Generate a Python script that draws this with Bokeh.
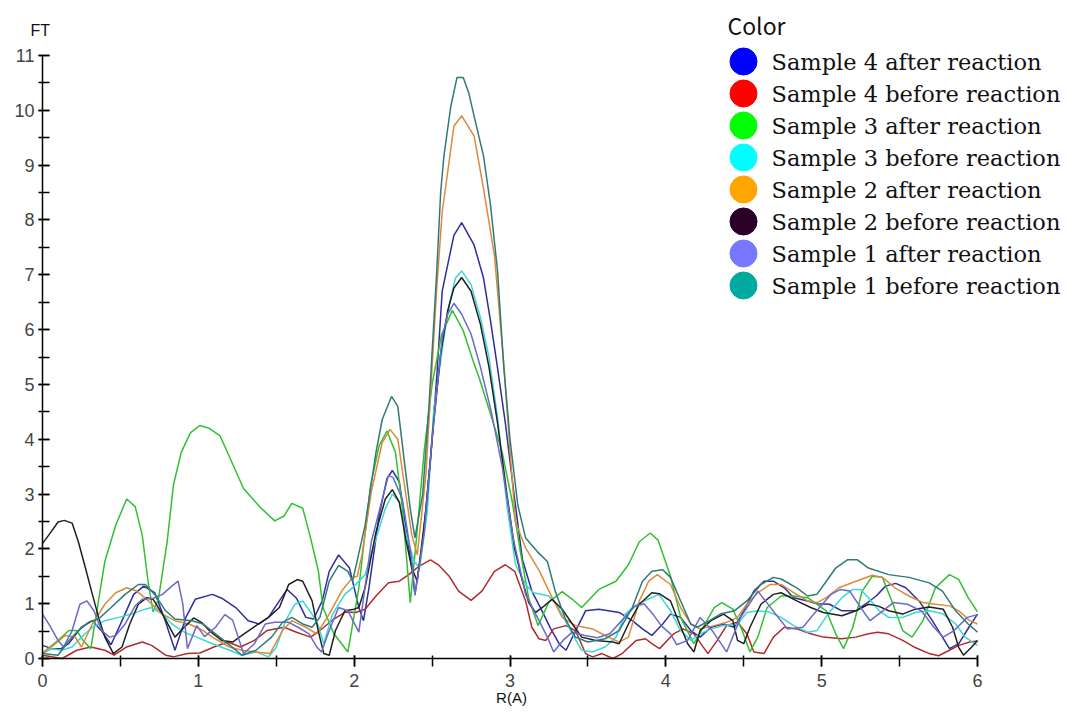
from bokeh.plotting import figure
from bokeh.models import FixedTicker, Range1d
from bokeh.core.properties import value
from bokeh.embed import file_html
from bokeh.resources import INLINE

# ---------------- data ----------------
s4_after_x = [0, 0.06, 0.12, 0.167, 0.25, 0.32, 0.38, 0.44, 0.52, 0.585, 0.65, 0.72, 0.78, 0.85, 0.92, 0.98, 1.09, 1.15, 1.24, 1.32, 1.39, 1.45, 1.52, 1.57, 1.63, 1.69, 1.74, 1.795, 1.84, 1.90, 1.97, 2.03, 2.06, 2.095, 2.16, 2.21, 2.245, 2.29, 2.33, 2.37, 2.39, 2.44, 2.49, 2.53, 2.565, 2.60, 2.64, 2.69, 2.77, 2.83, 2.875, 2.92, 2.97, 3.03, 3.08, 3.14, 3.20, 3.26, 3.32, 3.36, 3.42, 3.485, 3.57, 3.70, 3.785, 3.85, 3.91, 3.98, 4.03, 4.095, 4.16, 4.22, 4.29, 4.37, 4.44, 4.50, 4.565, 4.63, 4.69, 4.76, 4.82, 4.91, 4.97, 5.05, 5.13, 5.22, 5.28, 5.35, 5.41, 5.475, 5.54, 5.625, 5.71, 5.775, 5.82, 5.88, 5.945, 6.0]
s4_after_y = [0.24, 0.18, 0.18, 0.27, 0.57, 0.69, 0.5, 0.25, 0.75, 1.17, 1.32, 1.2, 0.75, 0.15, 0.75, 1.08, 1.17, 1.1, 0.93, 0.69, 0.63, 0.75, 1.05, 1.26, 1.1, 0.75, 0.72, 1.05, 1.59, 1.89, 1.65, 0.93, 0.69, 1.29, 2.61, 3.28, 3.43, 3.22, 2.43, 1.65, 1.17, 2.13, 3.64, 5.14, 6.70, 7.18, 7.72, 7.95, 7.54, 6.94, 6.16, 5.3, 4.3, 2.9, 1.8, 1.23, 0.9, 0.55, 0.25, 0.15, 0.5, 0.87, 0.9, 0.84, 0.69, 0.54, 0.42, 0.63, 0.81, 0.75, 0.51, 0.39, 0.57, 0.63, 0.57, 0.87, 1.23, 1.41, 1.41, 1.29, 1.11, 1.05, 1.0, 0.99, 0.87, 0.87, 0.99, 1.14, 1.32, 1.37, 1.29, 1.05, 0.69, 0.39, 0.18, 0.27, 0.57, 0.81]

s4_before_x = [0, 0.126, 0.22, 0.31, 0.40, 0.46, 0.54, 0.64, 0.70, 0.79, 0.84, 0.93, 1.01, 1.10, 1.19, 1.27, 1.36, 1.44, 1.55, 1.63, 1.72, 1.78, 1.87, 1.945, 2.01, 2.07, 2.14, 2.22, 2.29, 2.35, 2.415, 2.49, 2.54, 2.61, 2.67, 2.75, 2.82, 2.90, 2.97, 3.03, 3.10, 3.14, 3.186, 3.23, 3.28, 3.36, 3.42, 3.485, 3.53, 3.59, 3.66, 3.72, 3.81, 3.87, 3.91, 3.96, 4.05, 4.11, 4.18, 4.27, 4.33, 4.39, 4.46, 4.52, 4.565, 4.63, 4.69, 4.76, 4.84, 4.93, 5.01, 5.13, 5.22, 5.30, 5.36, 5.43, 5.52, 5.60, 5.69, 5.75, 5.82, 5.88, 5.95, 6.0]
s4_before_y = [0.06, 0.0, 0.15, 0.21, 0.15, 0.06, 0.21, 0.3, 0.24, 0.06, 0.03, 0.09, 0.1, 0.21, 0.3, 0.21, 0.33, 0.51, 0.57, 0.48, 0.39, 0.51, 0.72, 0.85, 0.84, 0.9, 1.14, 1.38, 1.41, 1.53, 1.68, 1.8, 1.71, 1.5, 1.23, 1.06, 1.23, 1.59, 1.71, 1.59, 1.05, 0.57, 0.36, 0.33, 0.54, 0.6, 0.51, 0.09, 0.03, 0.09, 0.0, 0.09, 0.33, 0.36, 0.27, 0.18, 0.45, 0.54, 0.45, 0.09, 0.33, 0.6, 0.66, 0.45, 0.12, 0.09, 0.39, 0.57, 0.54, 0.45, 0.39, 0.36, 0.39, 0.45, 0.48, 0.45, 0.33, 0.2, 0.09, 0.05, 0.15, 0.24, 0.3, 0.32]

s3_after_x = [0, 0.1, 0.17, 0.22, 0.26, 0.31, 0.40, 0.47, 0.54, 0.595, 0.64, 0.68, 0.71, 0.745, 0.80, 0.84, 0.89, 0.95, 1.01, 1.07, 1.14, 1.29, 1.40, 1.49, 1.55, 1.60, 1.67, 1.72, 1.77, 1.80, 1.87, 1.96, 2.03, 2.105, 2.16, 2.21, 2.265, 2.31, 2.36, 2.40, 2.45, 2.50, 2.56, 2.63, 2.70, 2.77, 2.80, 2.886, 2.95, 3.015, 3.07, 3.12, 3.18, 3.25, 3.335, 3.40, 3.46, 3.57, 3.68, 3.76, 3.83, 3.90, 3.95, 4.03, 4.095, 4.18, 4.24, 4.31, 4.36, 4.43, 4.49, 4.54, 4.59, 4.65, 4.74, 4.82, 4.91, 5.03, 5.09, 5.14, 5.20, 5.26, 5.325, 5.39, 5.45, 5.52, 5.58, 5.65, 5.73, 5.82, 5.88, 5.94, 6.0]
s3_after_y = [0.1, 0.33, 0.51, 0.51, 0.33, 0.18, 1.77, 2.43, 2.91, 2.77, 2.25, 1.35, 0.85, 1.1, 2.13, 3.16, 3.76, 4.12, 4.25, 4.2, 4.06, 3.1, 2.75, 2.51, 2.6, 2.83, 2.74, 2.2, 1.6, 0.93, 0.45, 0.12, 1.29, 3.15, 3.88, 4.15, 3.76, 2.73, 1.02, 2.2, 3.8, 5.0, 5.9, 6.35, 5.98, 5.37, 5.14, 4.36, 3.76, 2.85, 1.89, 1.1, 0.6, 1.03, 1.22, 1.08, 0.93, 1.26, 1.41, 1.71, 2.13, 2.29, 2.16, 1.5, 0.75, 0.27, 0.57, 0.93, 1.02, 0.9, 0.51, 0.12, 0.39, 0.93, 1.14, 1.14, 1.11, 0.87, 0.45, 0.18, 0.57, 1.23, 1.5, 1.48, 1.05, 0.51, 0.39, 0.69, 1.29, 1.53, 1.44, 1.11, 0.85]

s3_before_x = [0, 0.06, 0.12, 0.19, 0.25, 0.32, 0.40, 0.49, 0.57, 0.66, 0.70, 0.77, 0.83, 0.91, 0.99, 1.09, 1.20, 1.28, 1.37, 1.45, 1.50, 1.56, 1.62, 1.67, 1.73, 1.77, 1.805, 1.86, 1.94, 2.0, 2.07, 2.14, 2.20, 2.245, 2.29, 2.33, 2.385, 2.42, 2.47, 2.51, 2.576, 2.61, 2.65, 2.69, 2.75, 2.81, 2.865, 2.92, 2.98, 3.035, 3.10, 3.15, 3.25, 3.31, 3.40, 3.46, 3.53, 3.61, 3.68, 3.74, 3.80, 3.86, 3.955, 4.03, 4.095, 4.16, 4.22, 4.29, 4.37, 4.46, 4.52, 4.59, 4.66, 4.74, 4.82, 4.91, 4.97, 5.04, 5.13, 5.20, 5.25, 5.30, 5.37, 5.43, 5.52, 5.60, 5.69, 5.78, 5.86, 5.92, 6.0]
s3_before_y = [0.09, 0.18, 0.15, 0.21, 0.39, 0.57, 0.69, 0.75, 0.81, 0.9, 0.93, 0.81, 0.63, 0.48, 0.39, 0.27, 0.15, 0.06, 0.12, 0.03, 0.2, 0.69, 0.99, 1.05, 0.81, 0.6, 0.27, 0.8, 1.17, 1.32, 1.53, 2.19, 2.73, 3.0, 2.85, 2.31, 1.77, 1.65, 2.7, 4.5, 5.86, 6.46, 6.94, 7.07, 6.82, 6.22, 5.5, 4.4, 2.8, 1.71, 1.35, 1.2, 1.14, 0.93, 0.45, 0.15, 0.12, 0.21, 0.39, 0.81, 0.96, 1.05, 1.17, 0.87, 0.51, 0.33, 0.45, 0.54, 0.6, 0.63, 0.84, 0.87, 0.85, 0.75, 0.6, 0.48, 0.51, 0.81, 1.11, 1.26, 1.26, 1.11, 0.87, 0.75, 0.75, 0.84, 0.87, 0.81, 0.63, 0.39, 0.24]

s2_after_x = [0, 0.07, 0.146, 0.21, 0.25, 0.32, 0.40, 0.47, 0.54, 0.605, 0.68, 0.77, 0.85, 0.94, 1.03, 1.09, 1.20, 1.28, 1.37, 1.46, 1.54, 1.60, 1.69, 1.76, 1.84, 1.92, 1.99, 2.02, 2.05, 2.11, 2.18, 2.23, 2.28, 2.32, 2.37, 2.405, 2.46, 2.50, 2.53, 2.565, 2.60, 2.64, 2.69, 2.77, 2.83, 2.90, 2.96, 3.0, 3.035, 3.10, 3.19, 3.25, 3.335, 3.42, 3.53, 3.61, 3.70, 3.76, 3.83, 3.89, 3.945, 4.03, 4.095, 4.16, 4.22, 4.31, 4.39, 4.46, 4.52, 4.59, 4.67, 4.74, 4.82, 4.91, 4.97, 5.03, 5.11, 5.22, 5.325, 5.39, 5.47, 5.56, 5.65, 5.73, 5.82, 5.88, 5.95, 6.0]
s2_after_y = [0.1, 0.24, 0.42, 0.39, 0.21, 0.63, 0.99, 1.2, 1.29, 1.23, 1.05, 0.81, 0.69, 0.63, 0.51, 0.39, 0.21, 0.15, 0.12, 0.09, 0.51, 0.69, 0.57, 0.45, 0.81, 1.23, 1.48, 1.5, 1.89, 3.04, 3.94, 4.18, 4.0, 3.22, 2.25, 1.89, 3.34, 5.32, 6.76, 8.15, 8.87, 9.71, 9.9, 9.53, 8.57, 7.36, 5.38, 3.8, 2.49, 2.02, 1.59, 1.23, 0.75, 0.6, 0.54, 0.42, 0.3, 0.39, 1.05, 1.41, 1.53, 1.35, 0.93, 0.63, 0.54, 0.6, 0.66, 0.75, 0.99, 1.2, 1.35, 1.35, 1.2, 1.05, 1.02, 1.11, 1.29, 1.41, 1.52, 1.48, 1.29, 1.14, 1.02, 0.99, 0.96, 0.87, 0.69, 0.63]

s2_before_x = [0, 0.04, 0.10, 0.14, 0.19, 0.23, 0.27, 0.32, 0.36, 0.40, 0.455, 0.51, 0.56, 0.615, 0.67, 0.71, 0.77, 0.85, 0.92, 0.97, 1.02, 1.07, 1.15, 1.22, 1.28, 1.37, 1.45, 1.52, 1.58, 1.635, 1.67, 1.73, 1.77, 1.805, 1.84, 1.88, 1.94, 2.0, 2.03, 2.07, 2.14, 2.20, 2.245, 2.29, 2.33, 2.37, 2.405, 2.46, 2.51, 2.555, 2.60, 2.64, 2.69, 2.75, 2.81, 2.865, 2.92, 2.98, 3.03, 3.08, 3.12, 3.165, 3.22, 3.27, 3.335, 3.40, 3.46, 3.55, 3.66, 3.70, 3.76, 3.83, 3.91, 3.96, 4.03, 4.08, 4.14, 4.18, 4.22, 4.29, 4.37, 4.43, 4.46, 4.50, 4.54, 4.61, 4.69, 4.74, 4.84, 4.93, 5.01, 5.13, 5.22, 5.30, 5.36, 5.43, 5.52, 5.60, 5.69, 5.78, 5.84, 5.88, 5.91, 5.96, 6.0]
s2_before_y = [2.1, 2.25, 2.49, 2.52, 2.47, 2.13, 1.71, 1.17, 0.75, 0.39, 0.09, 0.21, 0.63, 0.99, 1.11, 1.08, 0.81, 0.39, 0.6, 0.74, 0.66, 0.51, 0.33, 0.3, 0.42, 0.6, 0.75, 0.93, 1.35, 1.44, 1.41, 1.05, 0.5, 0.09, 0.06, 0.51, 0.87, 0.9, 0.93, 1.29, 2.31, 2.91, 3.08, 2.85, 2.19, 1.65, 1.41, 2.7, 4.3, 5.56, 6.34, 6.76, 6.95, 6.7, 6.1, 5.32, 4.3, 3.0, 2.0, 1.41, 1.02, 0.84, 0.96, 1.08, 0.9, 0.63, 0.39, 0.33, 0.3, 0.27, 0.63, 0.99, 1.2, 1.18, 1.05, 0.69, 0.27, 0.12, 0.51, 0.69, 0.81, 0.69, 0.33, 0.27, 0.57, 0.99, 1.17, 1.2, 1.05, 0.93, 0.84, 0.78, 0.87, 0.99, 0.96, 0.87, 0.81, 0.9, 0.94, 0.9, 0.57, 0.2, 0.06, 0.2, 0.33]

s1_after_x = [0, 0.04, 0.10, 0.135, 0.19, 0.24, 0.285, 0.33, 0.38, 0.43, 0.47, 0.53, 0.595, 0.64, 0.71, 0.77, 0.83, 0.87, 0.90, 0.93, 0.99, 1.04, 1.11, 1.17, 1.22, 1.29, 1.36, 1.43, 1.49, 1.58, 1.64, 1.71, 1.76, 1.79, 1.84, 1.90, 1.96, 2.03, 2.11, 2.22, 2.25, 2.31, 2.37, 2.39, 2.45, 2.50, 2.565, 2.60, 2.64, 2.69, 2.75, 2.81, 2.88, 2.95, 3.02, 3.10, 3.165, 3.24, 3.28, 3.34, 3.40, 3.48, 3.56, 3.64, 3.72, 3.80, 3.86, 3.92, 3.97, 4.03, 4.07, 4.14, 4.22, 4.30, 4.39, 4.48, 4.59, 4.68, 4.78, 4.88, 4.95, 5.06, 5.12, 5.18, 5.25, 5.31, 5.38, 5.46, 5.55, 5.64, 5.72, 5.78, 5.85, 5.935, 6.0]
s1_after_y = [0.81, 0.63, 0.33, 0.21, 0.51, 0.99, 1.05, 0.87, 0.51, 0.39, 0.42, 0.63, 0.96, 1.08, 1.1, 1.17, 1.32, 1.41, 1.0, 0.18, 0.6, 0.4, 0.57, 0.8, 0.7, 0.09, 0.27, 0.63, 0.66, 0.66, 0.57, 0.45, 0.21, 0.12, 0.51, 0.93, 0.87, 0.48, 2.13, 3.34, 3.3, 2.9, 1.8, 1.15, 2.3, 4.0, 5.86, 6.28, 6.48, 6.28, 5.92, 5.32, 4.5, 3.5, 2.2, 1.17, 0.81, 0.39, 0.12, 0.33, 0.48, 0.42, 0.38, 0.45, 0.7, 0.95, 1.0, 0.8, 0.6, 0.45, 0.25, 0.33, 0.75, 0.5, 0.12, 0.75, 1.23, 0.9, 0.54, 0.57, 0.81, 1.17, 1.26, 1.23, 0.93, 0.69, 0.84, 1.02, 0.99, 0.87, 0.57, 0.39, 0.51, 0.75, 0.8]

s1_before_x = [0, 0.10, 0.17, 0.23, 0.295, 0.36, 0.44, 0.53, 0.615, 0.66, 0.72, 0.79, 0.85, 0.96, 1.03, 1.11, 1.19, 1.28, 1.37, 1.47, 1.54, 1.60, 1.67, 1.73, 1.78, 1.84, 1.90, 1.96, 1.99, 2.07, 2.14, 2.18, 2.24, 2.28, 2.32, 2.36, 2.39, 2.44, 2.48, 2.53, 2.555, 2.576, 2.62, 2.66, 2.70, 2.736, 2.77, 2.83, 2.875, 2.92, 2.96, 3.0, 3.05, 3.10, 3.175, 3.24, 3.29, 3.36, 3.42, 3.50, 3.61, 3.70, 3.785, 3.85, 3.91, 3.98, 4.03, 4.095, 4.16, 4.20, 4.28, 4.35, 4.44, 4.52, 4.61, 4.69, 4.74, 4.84, 4.91, 4.97, 5.03, 5.09, 5.165, 5.23, 5.30, 5.43, 5.56, 5.69, 5.775, 5.86, 5.94, 6.0]
s1_before_y = [0.09, 0.06, 0.33, 0.51, 0.66, 0.72, 0.93, 1.17, 1.35, 1.35, 1.17, 0.87, 0.72, 0.69, 0.63, 0.45, 0.27, 0.06, 0.15, 0.39, 0.66, 0.75, 0.63, 0.57, 0.75, 1.41, 1.70, 1.59, 1.41, 2.43, 3.76, 4.36, 4.78, 4.6, 3.64, 2.73, 2.2, 3.0, 4.6, 7.07, 8.5, 9.17, 10.07, 10.6, 10.6, 10.31, 9.89, 9.17, 8.27, 7.07, 5.32, 4.0, 2.8, 2.2, 1.95, 1.77, 1.23, 0.69, 0.39, 0.3, 0.36, 0.51, 0.93, 1.41, 1.59, 1.62, 1.48, 1.05, 0.63, 0.57, 0.69, 0.81, 0.87, 1.05, 1.35, 1.48, 1.45, 1.29, 1.14, 1.17, 1.41, 1.65, 1.8, 1.8, 1.65, 1.53, 1.48, 1.38, 1.23, 0.87, 0.63, 0.48]

series_names = ["Sample 4 after reaction", "Sample 4 before reaction",
                "Sample 3 after reaction", "Sample 3 before reaction",
                "Sample 2 after reaction", "Sample 2 before reaction",
                "Sample 1 after reaction", "Sample 1 before reaction"]
legend_colors = ["#0000ff", "#ff0000", "#00ff00", "#00ffff",
                 "#ffa500", "#2a0028", "#7777ff", "#00aaa0"]
line_colors = ["#2e2ea0", "#b02c2c", "#30c030", "#3ad8d8",
               "#dc8a3a", "#202020", "#6a6ac8", "#2f7a76"]
series_x = [s4_after_x, s4_before_x, s3_after_x, s3_before_x,
            s2_after_x, s2_before_x, s1_after_x, s1_before_x]
series_y = [s4_after_y, s4_before_y, s3_after_y, s3_before_y,
            s2_after_y, s2_before_y, s1_after_y, s1_before_y]

x_ticks = [0, 1, 2, 3, 4, 5, 6]
y_ticks = list(range(0, 12))
x_title = "R(A)"
y_title = "FT"
legend_title = "Color"

# ---------------- layout (pixels) ----------------
W, H = 1062, 706
X0_PX, X6_PX = 42, 977          # pixel columns of x = 0 and x = 6
Y0_PX, Y11_PX = 658, 55         # pixel rows of y = 0 and y = 11
px_per_x = (X6_PX - X0_PX) / 6.0
px_per_y = (Y0_PX - Y11_PX) / 11.0


def to_x(px):
    return (px - X0_PX) / px_per_x


def to_y(py):
    return (Y0_PX - py) / px_per_y


p = figure(width=W, height=H, output_backend="svg", toolbar_location=None,
           x_range=Range1d(to_x(0), to_x(W)), y_range=Range1d(to_y(H), to_y(0)),
           min_border_left=0, min_border_right=0, min_border_top=0,
           min_border_bottom=0)
p.outline_line_color = None
p.xgrid.visible = False
p.ygrid.visible = False
p.background_fill_color = "white"

for xs, ys, c in zip(series_x, series_y, line_colors):
    p.line(xs, ys, line_color=c, line_width=1.5)

tick_font = "Liberation Sans"
xa = p.xaxis[0]
xa.fixed_location = 0
xa.bounds = (0, 6)
xa.ticker = FixedTicker(ticks=x_ticks, minor_ticks=[i * 0.5 for i in range(13)])
xa.axis_line_width = 1.5
xa.major_tick_line_width = 1.5
xa.minor_tick_line_width = 1.5
xa.major_tick_in = 3
xa.major_tick_out = 8
xa.minor_tick_in = 3
xa.minor_tick_out = 8
xa.major_label_text_font = tick_font
xa.major_label_text_font_size = "18px"
xa.major_label_standoff = 7

ya = p.yaxis[0]
ya.fixed_location = 0
ya.bounds = (0, 11)
ya.ticker = FixedTicker(ticks=y_ticks, minor_ticks=[i * 0.5 for i in range(23)])
ya.axis_line_width = 1.5
ya.major_tick_line_width = 1.5
ya.minor_tick_line_width = 1.5
ya.major_tick_in = 7
ya.major_tick_out = 4
ya.minor_tick_in = 7
ya.minor_tick_out = 4
ya.major_label_text_font = tick_font
ya.major_label_text_font_size = "18px"
ya.major_label_standoff = 4

# axis titles
p.text([to_x(30)], [to_y(30)], text=[y_title], text_font=value(tick_font),
       text_font_size="16px", text_baseline="middle", text_align="left",
       text_color="#111111")
p.text([to_x(511)], [to_y(688)], text=[x_title], text_font=value(tick_font),
       text_font_size="15px", text_baseline="top", text_align="center",
       text_color="#111111")

# legend (circle keys + serif labels)
row_step = 32
key_x = [to_x(743)] * len(series_names)
key_y = [to_y(61 + i * row_step) for i in range(len(series_names))]
p.scatter(key_x, key_y, size=27, marker="circle", fill_color=legend_colors,
          line_color=legend_colors)
p.text([to_x(771)] * len(series_names), key_y, text=series_names,
       text_font=value("DejaVu Serif"), text_font_size="22.5px",
       text_baseline="middle", text_align="left", text_color="#111111")
p.text([to_x(727)], [to_y(24)], text=[legend_title],
       text_font=value("Noto Sans CJK JP"), text_font_size="23px",
       text_baseline="middle", text_align="left", text_color="#111111")

open("out.html", "w").write(file_html(p, INLINE))
